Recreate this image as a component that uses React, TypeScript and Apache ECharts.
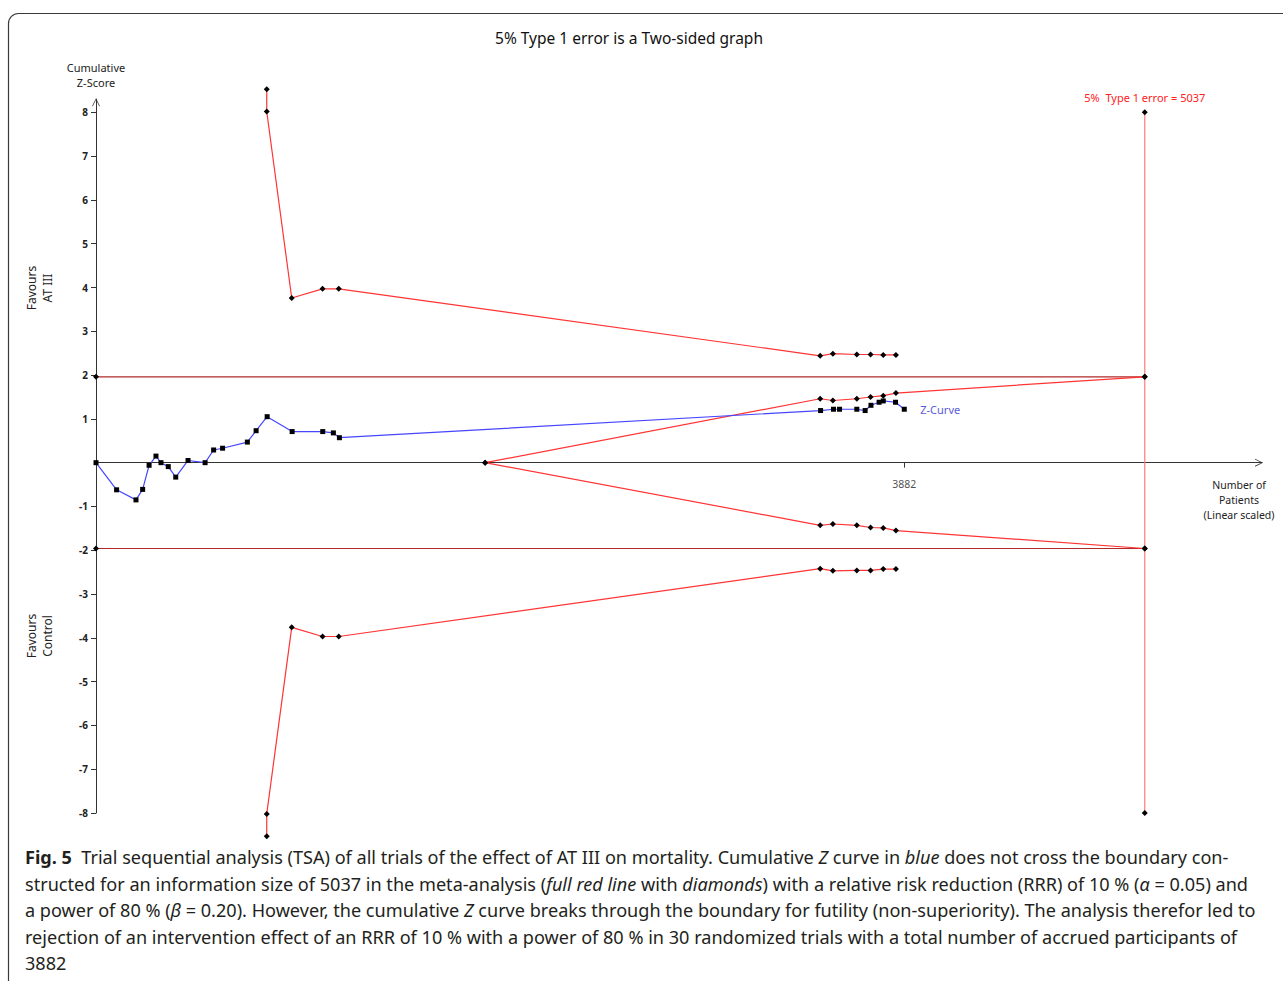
import React, { useEffect, useRef } from 'react';
import * as echarts from 'echarts';

// Cumulative Z-curve: accrued patients after each trial and the cumulative Z-score
const trialPatients = [0, 99, 192, 224, 255, 288, 312, 347, 383, 442, 524, 565, 608, 727, 769, 822, 942, 1089, 1140, 1169, 3480, 3542, 3571, 3654, 3694, 3722, 3761, 3781, 3840, 3882];
const cumulativeZ = [0, -0.62, -0.85, -0.61, -0.06, 0.15, 0.0, -0.09, -0.33, 0.05, 0.0, 0.29, 0.33, 0.47, 0.73, 1.05, 0.71, 0.71, 0.68, 0.57, 1.19, 1.22, 1.22, 1.22, 1.19, 1.31, 1.38, 1.41, 1.38, 1.22];

// Trial sequential monitoring boundaries (benefit / harm)
const boundaryPatients = [820, 820, 940, 1088, 1166, 3478, 3539, 3654, 3720, 3781, 3842];
const upperBoundary = [8.53, 8.02, 3.76, 3.97, 3.97, 2.44, 2.49, 2.47, 2.47, 2.46, 2.46];
const lowerBoundary = [-8.53, -8.02, -3.76, -3.97, -3.97, -2.42, -2.47, -2.46, -2.46, -2.43, -2.43];

// Futility (non-superiority) wedge
const futilityPatients = [1869, 3478, 3539, 3654, 3720, 3781, 3842, 5037];
const futilityUpper = [0, 1.46, 1.42, 1.46, 1.5, 1.53, 1.59, 1.96];
const futilityLower = [0, -1.43, -1.4, -1.43, -1.48, -1.49, -1.55, -1.96];

// Required information size, accrued information and conventional limits
const requiredInfoSize = 5037;
const accruedPatients = 3882;
const conventionalZ = 1.96;
const axisLimitZ = 8;
const xAxisMax = 5600;
const yTickValues = [-8, -7, -6, -5, -4, -3, -2, -1, 1, 2, 3, 4, 5, 6, 7, 8];

const chartTitle = '5% Type 1 error is a Two-sided graph';
const risLabel = '5%  Type 1 error = 5037';

const captionLines: [string, string][][] = [
  [
    ['b', 'Fig. 5'],
    ['r', '  Trial sequential analysis (TSA) of all trials of the effect of AT III on mortality. Cumulative '],
    ['i', 'Z'],
    ['r', ' curve in '],
    ['i', 'blue'],
    ['r', ' does not cross the boundary con-'],
  ],
  [
    ['r', 'structed for an information size of 5037 in the meta-analysis ('],
    ['i', 'full red line'],
    ['r', ' with '],
    ['i', 'diamonds'],
    ['r', ') with a relative risk reduction (RRR) of 10 % ('],
    ['i', 'α'],
    ['r', ' = 0.05) and'],
  ],
  [
    ['r', 'a power of 80 % ('],
    ['i', 'β'],
    ['r', ' = 0.20). However, the cumulative '],
    ['i', 'Z'],
    ['r', ' curve breaks through the boundary for futility (non-superiority). The analysis therefor led to'],
  ],
  [['r', 'rejection of an intervention effect of an RRR of 10 % with a power of 80 % in 30 randomized trials with a total number of accrued participants of']],
  [['r', '3882']],
];

const FONT = 'Noto Sans';
const CAPTION_FONT = 'Noto Sans';
const RED = '#ff3434';
const ARROW = 'path://M0,10 L5,0 L10,10 L9,10 L5,2 L1,10 Z';

const pairs = (xs: number[], ys: number[]) => xs.map((x, i) => [x, ys[i]]);

const boundaryLine = (data: number[][], color: string) => ({
  type: 'line',
  data,
  clip: false,
  symbol: 'diamond',
  symbolSize: 6,
  itemStyle: { color: '#000' },
  lineStyle: { color, width: 1.2 },
  z: 3,
});

export default function App() {
  const ref = useRef<HTMLDivElement>(null);

  useEffect(() => {
    if (!ref.current) return;
    const chart = echarts.init(ref.current, undefined, { renderer: 'svg' });

    const captionText = captionLines
      .map((line) => line.map(([s, t]) => `{${s}|${t}}`).join(''))
      .join('\n');
    const capBase = { fontFamily: CAPTION_FONT, fontSize: 18.1, lineHeight: 26.5, fill: '#231f20', color: '#231f20' };

    const option = {
      animation: false,
      backgroundColor: '#fff',
      textStyle: { fontFamily: FONT },
      grid: { left: 96, right: 21, top: 99.2, bottom: 168, containLabel: false },
      xAxis: {
        type: 'value',
        min: 0,
        max: xAxisMax,
        axisLine: {
          show: true,
          onZero: true,
          symbol: ['none', ARROW],
          symbolSize: [12, 8],
          symbolOffset: [0, -3],
          lineStyle: { color: '#333', width: 1 },
        },
        axisTick: { show: true, customValues: [accruedPatients], length: 5, lineStyle: { color: '#333' } },
        axisLabel: { show: false },
        splitLine: { show: false },
      },
      yAxis: {
        type: 'value',
        min: -axisLimitZ,
        max: 8.3,
        axisLine: {
          show: true,
          symbol: ['none', ARROW],
          symbolSize: [12, 8],
          symbolOffset: [0, -3],
          lineStyle: { color: '#333', width: 1 },
        },
        axisTick: { show: true, customValues: yTickValues, length: 5, lineStyle: { color: '#333' } },
        axisLabel: {
          show: true,
          customValues: yTickValues,
          margin: 8,
          color: '#222',
          fontSize: 10,
          fontWeight: 'bold',
          fontFamily: FONT,
          formatter: (v: number) => String(v),
        },
        splitLine: { show: false },
      },
      series: [
        // conventional ±1.96 limits
        {
          type: 'line',
          data: [[0, conventionalZ], [requiredInfoSize, conventionalZ]],
          clip: false,
          symbol: 'diamond',
          symbolSize: 6,
          itemStyle: { color: '#000' },
          lineStyle: { color: '#b02a2a', width: 1.2 },
          z: 2,
        },
        {
          type: 'line',
          data: [[0, -conventionalZ], [requiredInfoSize, -conventionalZ]],
          clip: false,
          symbol: 'diamond',
          symbolSize: 6,
          itemStyle: { color: '#000' },
          lineStyle: { color: '#b02a2a', width: 1.2 },
          z: 2,
        },
        // required information size
        {
          type: 'line',
          data: [
            {
              value: [requiredInfoSize, axisLimitZ],
              label: {
                show: true,
                position: 'top',
                distance: 6,
                formatter: risLabel,
                color: '#ff2020',
                fontSize: 11,
                fontFamily: FONT,
              },
            },
            { value: [requiredInfoSize, -axisLimitZ] },
          ],
          clip: false,
          symbol: 'diamond',
          symbolSize: 6,
          itemStyle: { color: '#000' },
          lineStyle: { color: '#ff7a7a', width: 1.2 },
          z: 2,
        },
        boundaryLine(pairs(boundaryPatients, upperBoundary), RED),
        boundaryLine(pairs(boundaryPatients, lowerBoundary), RED),
        boundaryLine(pairs(futilityPatients, futilityUpper), RED),
        boundaryLine(pairs(futilityPatients, futilityLower), RED),
        // cumulative Z-curve
        {
          type: 'line',
          data: pairs(trialPatients, cumulativeZ),
          clip: false,
          symbol: 'rect',
          symbolSize: 5,
          itemStyle: { color: '#000' },
          lineStyle: { color: '#4646ff', width: 1.2 },
          endLabel: {
            show: true,
            formatter: 'Z-Curve',
            color: '#5a5ad8',
            fontSize: 11,
            fontFamily: FONT,
            distance: 16,
          },
          z: 5,
        },
        // accrued information marker on the patient axis
        {
          type: 'scatter',
          data: [[accruedPatients, 0]],
          symbolSize: 0,
          clip: false,
          label: {
            show: true,
            position: 'bottom',
            distance: 16,
            formatter: String(accruedPatients),
            color: '#222',
            fontSize: 10.5,
            fontFamily: FONT,
          },
          silent: true,
          z: 1,
        },
      ],
      graphic: [
        {
          type: 'rect',
          shape: { x: 8.5, y: 13.5, width: 1320, height: 1020, r: 10 },
          style: { fill: 'none', stroke: '#3a3a3a', lineWidth: 1.2 },
          silent: true,
          z: -1,
        },
        {
          type: 'text',
          x: 629,
          y: 38,
          style: { text: chartTitle, fontFamily: FONT, fontSize: 15.5, fill: '#111', align: 'center', verticalAlign: 'middle' },
        },
        {
          type: 'text',
          x: 96,
          y: 74.5,
          style: {
            text: 'Cumulative\nZ-Score',
            fontFamily: FONT,
            fontSize: 11,
            lineHeight: 15,
            fill: '#222',
            align: 'center',
            verticalAlign: 'middle',
          },
        },
        {
          type: 'text',
          x: 39,
          y: 288,
          rotation: Math.PI / 2,
          style: {
            text: 'Favours\nAT III',
            fontFamily: FONT,
            fontSize: 12,
            lineHeight: 16,
            fill: '#222',
            align: 'center',
            verticalAlign: 'middle',
          },
        },
        {
          type: 'text',
          x: 39,
          y: 636,
          rotation: Math.PI / 2,
          style: {
            text: 'Favours\nControl',
            fontFamily: FONT,
            fontSize: 12,
            lineHeight: 16,
            fill: '#222',
            align: 'center',
            verticalAlign: 'middle',
          },
        },
        {
          type: 'text',
          x: 1239,
          y: 500,
          style: {
            text: 'Number of\nPatients\n(Linear scaled)',
            fontFamily: FONT,
            fontSize: 10.5,
            lineHeight: 15,
            fill: '#222',
            align: 'center',
            verticalAlign: 'middle',
          },
        },
        {
          type: 'text',
          x: 25,
          y: 844,
          style: {
            text: captionText,
            ...capBase,
            rich: {
              r: { ...capBase },
              b: { ...capBase, fontWeight: 'bold' },
              i: { ...capBase, fontStyle: 'italic' },
            },
          },
        },
      ],
    };

    chart.setOption(option as any);
    return () => chart.dispose();
  }, []);

  return <div ref={ref} style={{ position: 'absolute', left: 0, top: 0, width: 1283, height: 981 }} />;
}
